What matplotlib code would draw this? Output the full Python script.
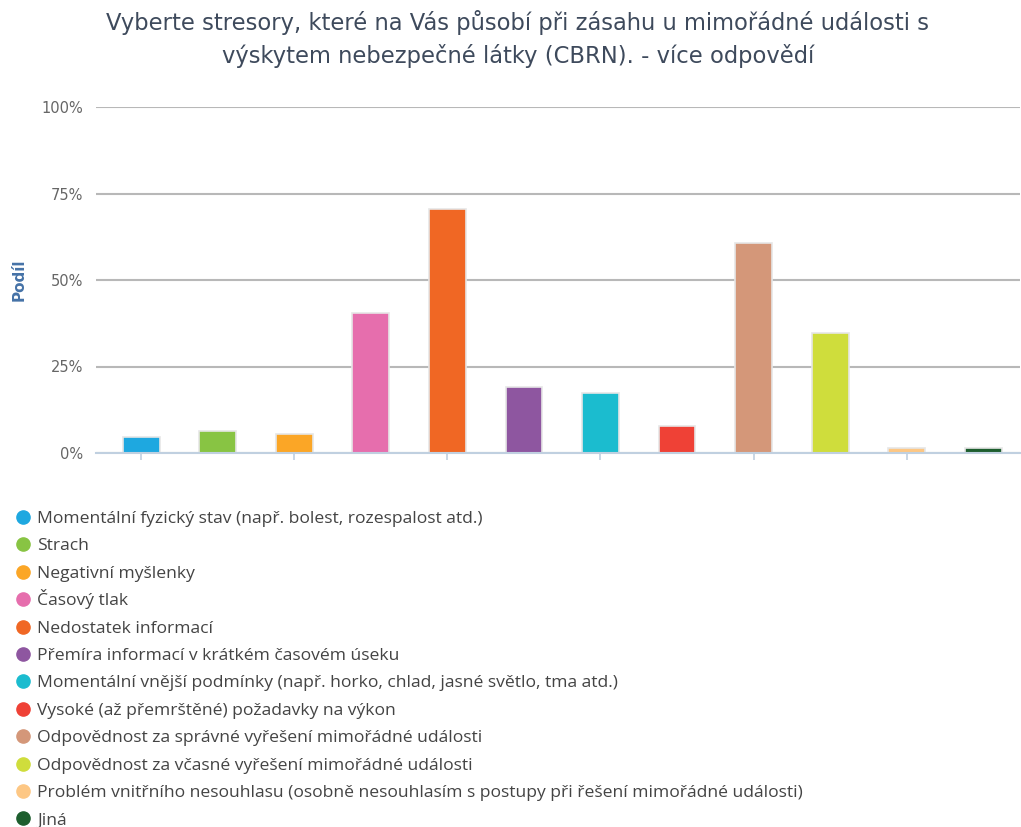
import matplotlib
matplotlib.use("Agg")
import matplotlib.pyplot as plt
from matplotlib.lines import Line2D
import numpy as np

# data
labels = [
    "Momentální fyzický stav (např. bolest, rozespalost atd.)",
    "Strach",
    "Negativní myšlenky",
    "Časový tlak",
    "Nedostatek informací",
    "Přemíra informací v krátkém časovém úseku",
    "Momentální vnější podmínky (např. horko, chlad, jasné světlo, tma atd.)",
    "Vysoké (až přemrštěné) požadavky na výkon",
    "Odpovědnost za správné vyřešení mimořádné události",
    "Odpovědnost za včasné vyřešení mimořádné události",
    "Problém vnitřního nesouhlasu (osobně nesouhlasím s postupy při řešení mimořádné události)",
    "Jiná",
]
values = [4.6, 6.4, 5.5, 40.5, 70.5, 19.0, 17.3, 7.8, 60.7, 34.7, 1.4, 1.4]
colors = ["#1ea8e0", "#88c443", "#fba626", "#e66ead", "#f06724", "#8e56a0",
          "#1bbccf", "#ef4136", "#d49779", "#cfdd3c", "#fdc784", "#1d5e2e"]
yticks = [0, 25, 50, 75, 100]

W, H = 1021, 827
fig = plt.figure(figsize=(W / 100, H / 100), dpi=100)
ax = fig.add_axes([96 / W, 1 - 453 / H, 0.905, (453 - 107) / H])

x = np.arange(len(values))
ax.bar(x, values, width=0.48, color=colors, edgecolor="#e6e6e6", linewidth=1.2, zorder=3)

ax.set_xlim(-0.59, len(values) - 0.52)
ax.set_ylim(0, 100)
ax.set_yticks(yticks)
ax.set_yticklabels([f"{t}%" for t in yticks], color="#666666", fontsize=10.5)
ax.yaxis.grid(True, color="#b8b8b8", linewidth=1.5, zorder=0)
ax.tick_params(axis="y", length=0, pad=9)
ax.set_xticks(x[::2])
ax.set_xticklabels([])
ax.tick_params(axis="x", length=5, color="#c0d0e0", width=1.2)
for s in ["top", "right", "left"]:
    ax.spines[s].set_visible(False)
ax.spines["bottom"].set_color("#c0d0e0")
ax.spines["bottom"].set_linewidth(1.5)
ax.spines["bottom"].set_zorder(4)

ax.set_ylabel("Podíl", color="#4572a7", fontsize=11, fontweight="bold", labelpad=11)

fig.text(0.507, 1 - 39 / H,
         "Vyberte stresory, které na Vás působí při zásahu u mimořádné události s\n"
         "výskytem nebezpečné látky (CBRN). - více odpovědí",
         ha="center", va="center", fontsize=16.3, color="#3e4a5c", linespacing=1.45)

# legend, one row per category, evenly spaced
row_gap = 27.4
for i, (lab, c) in enumerate(zip(labels, colors)):
    ym = 517 + i * row_gap
    fig.add_artist(Line2D([23 / W], [1 - ym / H], transform=fig.transFigure, marker="o",
                          markersize=9.5, color=c, linestyle=""))
    fig.text(37 / W, 1 - (ym + 6) / H, lab, ha="left", va="baseline", color="#444444",
             fontsize=12.6, family=["Open Sans", "DejaVu Sans"])

fig.savefig("out.png", dpi=100)
